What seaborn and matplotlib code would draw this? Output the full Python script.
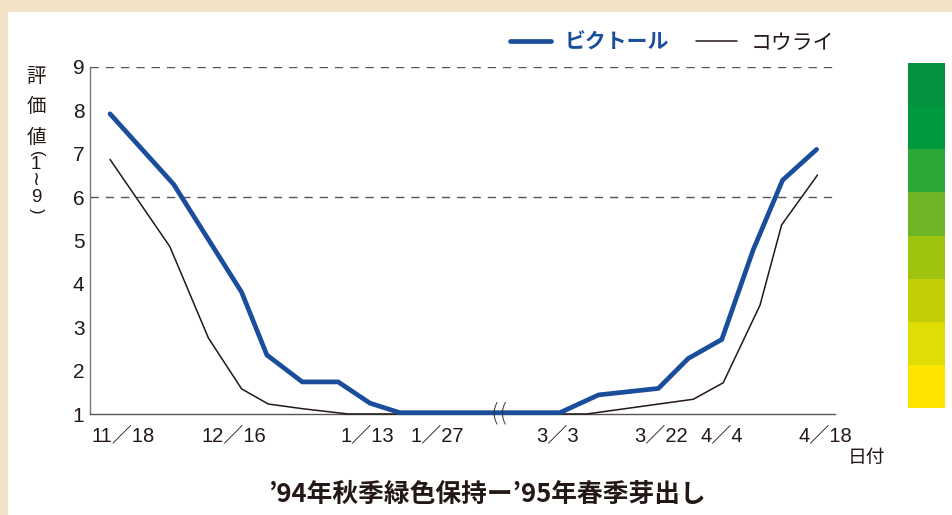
import numpy as np
import pandas as pd
import matplotlib
matplotlib.use("Agg")
import matplotlib.pyplot as plt
from matplotlib.colors import ListedColormap
from matplotlib.patches import Rectangle
import seaborn as sns

# ---------------- data ----------------
# x positions along the (broken) date axis, in axis day-units (11/18 = 0)
victor_x = [0, 13.8, 28.6, 34.1, 41.8, 49.6, 56.5, 63.0, 97.8, 106.2, 119.2, 125.7, 133.0, 139.8, 146.2, 153.6]
victor_y = [7.92, 6.30, 3.81, 2.36, 1.74, 1.74, 1.25, 1.03, 1.03, 1.44, 1.59, 2.28, 2.72, 4.78, 6.39, 7.10]
korai_x = [0, 13.0, 21.4, 28.6, 34.4, 42.0, 51.8, 103.6, 126.8, 133.3, 141.3, 146.0, 153.8]
korai_y = [6.87, 4.86, 2.75, 1.58, 1.23, 1.12, 1.0, 1.0, 1.34, 1.72, 3.51, 5.36, 6.51]
series_names = ["ビクトール", "コウライ"]
tick_pos = [2.8, 27.0, 55.9, 71.1, 97.2, 119.8, 133.0, 155.4]
tick_labels = ["11／18", "12／16", "1／13", "1／27", "3／3", "3／22", "4／4", "4／18"]
y_ticks = [1, 2, 3, 4, 5, 6, 7, 8, 9]
ref_lines = [6, 9]
scale_colors = ["#04923f", "#009a3e", "#2ca836", "#6db524",
                "#9cc40f", "#c2cf06", "#e0dc04", "#fde500"]
title = "’94年秋季緑色保持ー’95年春季芽出し"
ylabel_word = ["評", "価", "値"]
ylabel_range = "1\n≀\n9"

# ---------------- style ----------------
sns.set_theme(style="white")
plt.rcParams["font.family"] = ["Liberation Sans", "Noto Sans CJK JP", "DejaVu Sans"]
TXT = "#231815"
BLUE = "#1a4e9a"

W, H = 953, 515
fig = plt.figure(figsize=(W / 100, H / 100), dpi=100, facecolor="white")

# beige frame (top & left)
fig.patches.append(Rectangle((0, 1 - 12 / H), 1, 12 / H, transform=fig.transFigure,
                             facecolor="#f2e3c7", edgecolor="none", zorder=0))
fig.patches.append(Rectangle((0, 0), 8 / W, 1, transform=fig.transFigure,
                             facecolor="#f2e3c7", edgecolor="none", zorder=0))

ax = fig.add_axes([90 / W, 1 - 414 / H, 745 / W, 347 / H])
ax.set_facecolor("white")

df_v = pd.DataFrame({"x": victor_x, "y": victor_y})
df_k = pd.DataFrame({"x": korai_x, "y": korai_y})

for yv in ref_lines:
    ax.axhline(yv, color="#555555", lw=1.0, ls=(0, (6, 5)), zorder=1)

sns.lineplot(data=df_k, x="x", y="y", ax=ax, color=TXT, lw=1.1,
             label=series_names[1], clip_on=False, zorder=3)
sns.lineplot(data=df_v, x="x", y="y", ax=ax, color=BLUE, lw=3.4,
             label=series_names[0], clip_on=False, zorder=4,
             solid_joinstyle="miter")

ax.set_xlim(-4.35, 157.6)
ax.set_ylim(1, 9)
ax.set_yticks(y_ticks)
ax.set_yticklabels([str(v) for v in y_ticks])
ax.set_xticks(tick_pos)
ax.set_xticklabels(tick_labels)
ax.set_xlabel("")
ax.set_ylabel("")

for s in ["top", "right"]:
    ax.spines[s].set_visible(False)
ax.spines["left"].set_color("#777777")
ax.spines["left"].set_linewidth(1.0)
ax.spines["bottom"].set_color("#555555")
ax.spines["bottom"].set_linewidth(1.0)

ax.tick_params(axis="y", direction="in", length=6, width=1, color="#777777",
               labelsize=15, pad=4, labelcolor=TXT)
ax.tick_params(axis="x", length=0, labelsize=14.5, pad=9, labelcolor=TXT)

# axis break mark
ax.text(84.6, 1.0, "((", fontsize=17, ha="center", va="center", color="#333333",
        family="DejaVu Sans", fontweight="light", zorder=5, clip_on=False)

# legend
handles, labels = ax.get_legend_handles_labels()
order = [labels.index(n) for n in series_names]
leg = ax.legend([handles[i] for i in order], [labels[i] for i in order],
                loc="center left", bbox_to_anchor=(510 / W, 1 - 43 / H),
                bbox_transform=fig.transFigure, ncol=2, frameon=False,
                fontsize=15, handlelength=1.97, handletextpad=0.65,
                columnspacing=1.3, borderpad=0, borderaxespad=0)
for t in leg.get_texts():
    t.set_color(TXT)
leg.get_texts()[0].set_color(BLUE)
leg.get_texts()[0].set_fontweight("bold")

# vertical y label
for ch, yy in zip(ylabel_word, [76, 107, 137]):
    fig.text(36 / W, 1 - yy / H, ch, fontsize=14, ha="center", va="center",
             color=TXT, family=["Noto Sans CJK JP", "DejaVu Sans"])
fig.text(36 / W, 1 - 154 / H, "(", fontsize=12, ha="center", va="center",
         color=TXT, rotation=-90, family=["Liberation Sans"])
fig.text(36 / W, 1 - 181 / H, ylabel_range, fontsize=13.5, ha="center", va="center",
         color=TXT, linespacing=0.95, family=["Liberation Sans", "DejaVu Sans"])
fig.text(36 / W, 1 - 211 / H, ")", fontsize=12, ha="center", va="center",
         color=TXT, rotation=-90, family=["Liberation Sans"])

# x axis unit label
fig.text(866 / W, 1 - 457 / H, "日付", fontsize=13.5, ha="center", va="center",
         color=TXT, family=["Noto Sans CJK JP"])

# bottom caption
fig.text(488 / W, 1 - 494 / H, title, fontsize=18.5, ha="center", va="center",
         color=TXT, fontweight="bold", family=["Noto Sans CJK JP", "DejaVu Sans"])

# colour scale strip
cax = fig.add_axes([908 / W, 1 - 408 / H, 37 / W, 345 / H])
sns.heatmap(np.arange(len(scale_colors)).reshape(-1, 1), ax=cax,
            cmap=ListedColormap(scale_colors), cbar=False,
            xticklabels=False, yticklabels=False, linewidths=0)
cax.set_axis_off()

fig.savefig("out.png", dpi=100, facecolor="white")
